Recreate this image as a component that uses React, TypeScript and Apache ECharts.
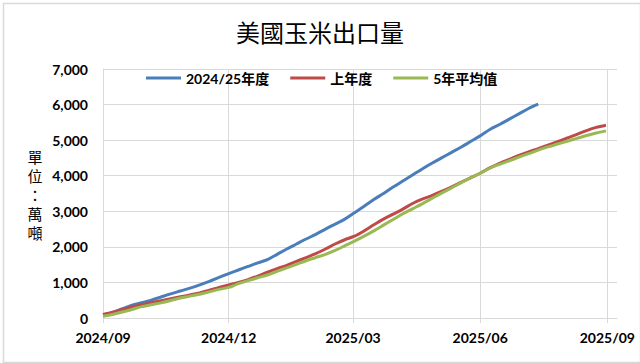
import { useEffect, useRef } from "react";
import * as echarts from "echarts";

const weekDates = [
  "2024-09-01", "2024-09-08", "2024-09-15", "2024-09-22", "2024-09-29",
  "2024-10-06", "2024-10-13", "2024-10-20", "2024-10-27",
  "2024-11-03", "2024-11-10", "2024-11-17", "2024-11-24",
  "2024-12-01", "2024-12-08", "2024-12-15", "2024-12-22", "2024-12-29",
  "2025-01-05", "2025-01-12", "2025-01-19", "2025-01-26",
  "2025-02-02", "2025-02-09", "2025-02-16", "2025-02-23",
  "2025-03-02", "2025-03-09", "2025-03-16", "2025-03-23", "2025-03-30",
  "2025-04-06", "2025-04-13", "2025-04-20", "2025-04-27",
  "2025-05-04", "2025-05-11", "2025-05-18", "2025-05-25",
  "2025-06-01", "2025-06-08", "2025-06-15", "2025-06-22", "2025-06-29",
  "2025-07-06", "2025-07-13", "2025-07-20", "2025-07-27",
  "2025-08-03", "2025-08-10", "2025-08-17", "2025-08-24", "2025-08-31",
];

const currentYear = [
  90, 160, 260, 360, 430, 500, 590, 680, 760, 840,
  930, 1030, 1140, 1250, 1350, 1450, 1550, 1640, 1790, 1940,
  2080, 2220, 2350, 2500, 2640, 2780, 2960, 3140, 3330, 3500,
  3680, 3850, 4020, 4190, 4350, 4500, 4650, 4800, 4960, 5120,
  5300, 5440, 5590, 5740, 5890, 6010,
];

const previousYear = [
  100, 160, 240, 310, 370, 430, 485, 540, 595, 650,
  705, 780, 860, 930, 1000, 1080, 1180, 1290, 1390, 1480,
  1590, 1700, 1810, 1940, 2080, 2200, 2300, 2450, 2620, 2780,
  2920, 3060, 3220, 3340, 3440, 3560, 3680, 3810, 3940, 4070,
  4220, 4350, 4460, 4570, 4670, 4760, 4860, 4960, 5060, 5160,
  5270, 5360, 5420,
];

const fiveYearAvg = [
  50, 100, 170, 240, 320, 370, 425, 490, 560, 615,
  670, 735, 805, 860, 965, 1050, 1130, 1210, 1310, 1410,
  1510, 1610, 1700, 1790, 1900, 2030, 2160, 2300, 2450, 2610,
  2770, 2930, 3070, 3210, 3360, 3510, 3650, 3800, 3940, 4070,
  4210, 4320, 4420, 4520, 4620, 4720, 4810, 4890, 4970, 5050,
  5130, 5200, 5260,
];

const seriesNames = ["2024/25年度", "上年度", "5年平均值"];
const xTickLabels = ["2024/09", "2024/12", "2025/03", "2025/06", "2025/09"];
const unitChars = ["單", "位", "：", "萬", "噸"];
const xAxisStart = "2024-09-01";
const xAxisEnd = "2025-09-08";
const yMax = 7000;
const yStep = 1000;

const dateTs = (s: string) => {
  const [y, m, d] = s.split("-").map(Number);
  return Date.UTC(y, m - 1, d);
};
const tickTs = (s: string) => {
  const [y, m] = s.split("/").map(Number);
  return Date.UTC(y, m - 1, 1);
};
const pairs = (vals: number[]) => vals.map((v, i) => [dateTs(weekDates[i]), v]);

const NUM_FONT = "Lato, 'Noto Sans CJK TC', sans-serif";
const CJK_FONT = "'Noto Sans CJK TC', 'Noto Sans', sans-serif";
const GRID_COLOR = "#d9d9d9";

export default function App() {
  const ref = useRef<HTMLDivElement>(null);
  useEffect(() => {
    if (!ref.current) return;
    const chart = echarts.init(ref.current, null, { renderer: "svg" });
    const ticks = xTickLabels.map(tickTs);
    const unitY = [156, 175, 194, 213, 232];
    chart.setOption({
      animation: false,
      backgroundColor: "#ffffff",
      title: {
        text: "美國玉米出口量",
        left: "center",
        top: 19,
        padding: 0,
        textStyle: {
          fontFamily: CJK_FONT,
          fontSize: 24,
          fontWeight: "normal",
          color: "#000000",
        },
      },
      legend: {
        data: seriesNames,
        left: 141,
        top: 66,
        icon: "rect",
        itemWidth: 35,
        itemHeight: 3,
        itemGap: 21,
        textStyle: {
          fontFamily: NUM_FONT,
          fontSize: 14,
          fontWeight: "bold",
          color: "#000000",
        },
      },
      grid: { left: 103, right: 23, top: 69, bottom: 45, containLabel: false },
      xAxis: {
        type: "value",
        min: dateTs(xAxisStart),
        max: dateTs(xAxisEnd),
        axisLine: { show: true, lineStyle: { color: GRID_COLOR, width: 1 } },
        axisTick: {
          show: true,
          length: 5,
          customValues: ticks,
          lineStyle: { color: GRID_COLOR, width: 1 },
        },
        splitLine: { show: true, lineStyle: { color: GRID_COLOR, width: 1 } },
        axisLabel: {
          customValues: ticks,
          margin: 12,
          fontFamily: NUM_FONT,
          fontSize: 14,
          fontWeight: "bold",
          color: "#000000",
          formatter: (v: number) => {
            const i = ticks.indexOf(v);
            return i >= 0 ? xTickLabels[i] : "";
          },
        },
      },
      yAxis: {
        type: "value",
        min: 0,
        max: yMax,
        interval: yStep,
        axisLine: { show: true, lineStyle: { color: GRID_COLOR, width: 1 } },
        axisTick: { show: false },
        splitLine: { show: true, lineStyle: { color: GRID_COLOR, width: 1 } },
        axisLabel: {
          margin: 15,
          fontFamily: NUM_FONT,
          fontSize: 14,
          fontWeight: "bold",
          color: "#000000",
          formatter: (v: number) => v.toLocaleString("en-US"),
        },
      },
      graphic: [
        {
          type: "rect",
          left: 1,
          top: 1,
          shape: { x: 0, y: 0, width: 637, height: 359 },
          style: { fill: "none", stroke: GRID_COLOR, lineWidth: 1.5 },
          silent: true,
        },
        ...unitChars.map((c, i) => ({
          type: "text",
          x: 35,
          y: unitY[i],
          style: {
            text: c,
            fontFamily: CJK_FONT,
            fontSize: 15,
            lineHeight: 17,
            fill: "#000000",
            align: "center",
            verticalAlign: "middle",
          },
        })),
      ],
      series: [
        {
          name: seriesNames[0],
          type: "line",
          data: pairs(currentYear),
          symbol: "none",
          smooth: 0.3,
          lineStyle: { color: "#4A7EBB", width: 3 },
          itemStyle: { color: "#4A7EBB" },
        },
        {
          name: seriesNames[1],
          type: "line",
          data: pairs(previousYear),
          symbol: "none",
          smooth: 0.3,
          lineStyle: { color: "#BE4B48", width: 3 },
          itemStyle: { color: "#BE4B48" },
        },
        {
          name: seriesNames[2],
          type: "line",
          data: pairs(fiveYearAvg),
          symbol: "none",
          smooth: 0.3,
          lineStyle: { color: "#98B954", width: 3 },
          itemStyle: { color: "#98B954" },
        },
      ],
    });
    return () => chart.dispose();
  }, []);
  return (
    <div
      ref={ref}
      style={{ position: "fixed", left: 0, top: 0, width: 640, height: 363, background: "#fff" }}
    />
  );
}
